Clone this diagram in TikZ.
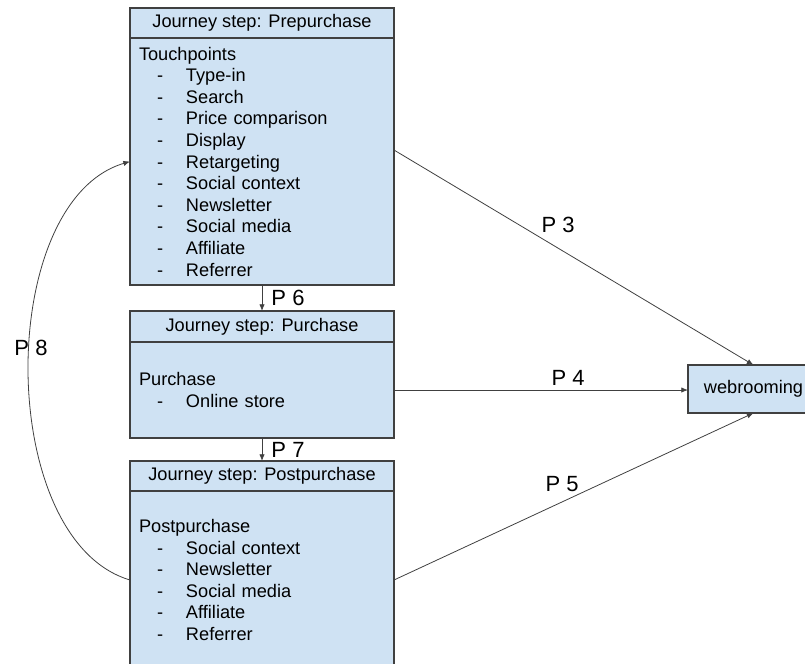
\documentclass[tikz,border=0pt]{standalone}
\usepackage{fontspec}
\setmainfont{Liberation Sans}
\usepackage{xcolor}
\usepackage{tikz}
\usetikzlibrary{positioning}
\usetikzlibrary{arrows.meta}

\definecolor{boxblue}{HTML}{CFE2F3}
\definecolor{lineGray}{HTML}{404040}

\newcommand{\stepfont}{\fontsize{13.65}{16.2}\selectfont}
\newcommand{\pfont}{\fontsize{16.5}{19}\selectfont}
\newcommand{\itm}[1]{\\\hspace*{13.5pt}\makebox[21.75pt][l]{-}#1}

\tikzset{
    stephead/.style={draw=lineGray, line width=0.8pt, fill=boxblue, minimum width=198pt, minimum height=22.5pt, inner sep=0pt, outer sep=0pt, font=\stepfont},
    stepbody/.style={draw=lineGray, line width=0.8pt, fill=boxblue, text width=184.5pt, inner xsep=6.75pt, inner ysep=1pt, outer sep=0pt, align=left, font=\stepfont},
    flow/.style={-{Latex[length=5pt,width=4pt]}, draw=lineGray, line width=0.6pt},
    plabel/.style={font=\pfont}
}

\begin{document}
\begin{tikzpicture}[x=0.75pt, y=-0.75pt]
    \useasboundingbox (0, 0) rectangle (805, 663);

    \node[stephead, anchor=north] (prehead) at (262, 8) {Journey step: Prepurchase};
    \node[stepbody, minimum height=185.25pt, below=0pt of prehead] (prebody) {Touchpoints\itm{Type-in}\itm{Search}\itm{Price comparison}\itm{Display}\itm{Retargeting}\itm{Social context}\itm{Newsletter}\itm{Social media}\itm{Affiliate}\itm{Referrer}};

    \node[stephead, minimum height=23.25pt, below=19.5pt of prebody] (purhead) {Journey step: Purchase};
    \node[stepbody, minimum height=72pt, below=0pt of purhead] (purbody) {Purchase\itm{Online store}};

    \node[stephead, below=17.25pt of purbody] (posthead) {Journey step: Postpurchase};
    \node[stepbody, minimum height=133.5pt, below=0pt of posthead] (postbody) {Postpurchase\itm{Social context}\itm{Newsletter}\itm{Social media}\itm{Affiliate}\itm{Referrer}};

    \node[stephead, minimum width=98.25pt, minimum height=36pt, anchor=north west] (web) at (688, 365) {webrooming};

    \draw[flow] ([yshift=8.6pt]prebody.east) -- (web.north);
    \draw[flow] (purbody.east) -- (purbody.east -| web.west);
    \draw[flow] (postbody.east) -- (web.south);
    \draw[flow] (prebody.south) -- (purhead.north);
    \draw[flow] (purbody.south) -- (posthead.north);
    \draw[flow] (postbody.west) .. controls +(-135, -40) and +(-135, 40) .. (prebody.west);

    \node[plabel] (p3) at (558, 225) {P 3};
    \node[plabel] (p4) at (568, 378) {P 4};
    \node[plabel] (p5) at (562, 484) {P 5};
    \node[plabel] (p6) at (288, 298) {P 6};
    \node[plabel] (p7) at (288, 450) {P 7};
    \node[plabel] (p8) at (31, 348) {P 8};
\end{tikzpicture}
\end{document}
